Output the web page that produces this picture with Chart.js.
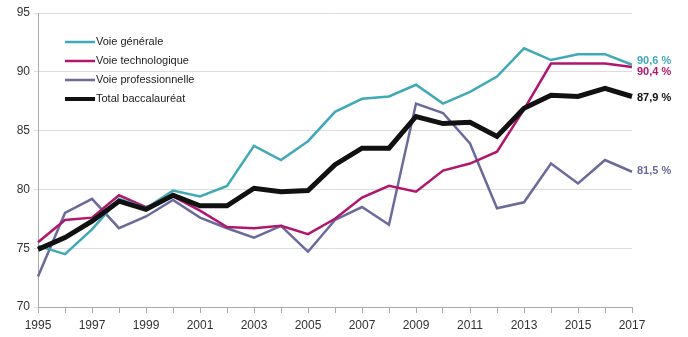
<!DOCTYPE html>
<html>
<head>
<meta charset="utf-8">
<script src="https://cdn.jsdelivr.net/npm/chart.js@4/dist/chart.umd.min.js"></script>
<style>
  html, body { margin: 0; padding: 0; background: #fff; }
  #wrap { width: 688px; height: 337px; }
</style>
</head>
<body>
<div id="wrap"><canvas id="bacChart" width="688" height="337"></canvas></div>
<script>
const years = [1995, 1996, 1997, 1998, 1999, 2000, 2001, 2002, 2003, 2004, 2005, 2006,
               2007, 2008, 2009, 2010, 2011, 2012, 2013, 2014, 2015, 2016, 2017];

const generale = [75.2, 74.5, 76.6, 79.2, 78.4, 79.9, 79.4, 80.3, 83.7, 82.5, 84.1, 86.6,
                  87.7, 87.9, 88.9, 87.3, 88.3, 89.6, 92.0, 91.0, 91.5, 91.5, 90.6];
const techno = [75.5, 77.4, 77.6, 79.5, 78.5, 79.4, 78.2, 76.8, 76.7, 76.9, 76.2, 77.5,
                79.3, 80.3, 79.8, 81.6, 82.2, 83.2, 86.8, 90.7, 90.7, 90.7, 90.4];
const pro = [72.6, 78.0, 79.2, 76.7, 77.7, 79.1, 77.6, 76.7, 75.9, 76.9, 74.7, 77.4,
             78.5, 77.0, 87.3, 86.5, 83.9, 78.4, 78.9, 82.2, 80.5, 82.5, 81.5];
const total = [74.9, 75.9, 77.3, 79.0, 78.3, 79.5, 78.6, 78.6, 80.1, 79.8, 79.9, 82.1,
               83.5, 83.5, 86.2, 85.6, 85.7, 84.5, 86.9, 88.0, 87.9, 88.6, 87.9];

const seriesNames = ['Voie générale', 'Voie technologique', 'Voie professionnelle', 'Total baccalauréat'];
const seriesColors = ['#3fa9b6', '#b0166e', '#6a6a9c', '#111111'];
const endLabels = ['90,6 %', '90,4 %', '81,5 %', '87,9 %'];

const fontFamily = 'Arial, "Liberation Sans", sans-serif';

// legend drawn inside the plot, top left
const legendPlugin = {
    id: 'innerLegend',
    afterDraw(chart) {
        const ctx = chart.ctx;
        ctx.save();
        ctx.font = '11px ' + fontFamily;
        ctx.textBaseline = 'middle';
        chart.data.datasets.forEach((ds, i) => {
            const y = 42 + i * 19;
            ctx.strokeStyle = ds.borderColor;
            ctx.lineWidth = i === 3 ? 4 : 2.5;
            ctx.beginPath();
            ctx.moveTo(65, y);
            ctx.lineTo(95, y);
            ctx.stroke();
            ctx.fillStyle = '#222';
            ctx.fillText(ds.label, 96, y);
        });
        ctx.restore();
    }
};

// value labels at the end of each line
const endLabelPlugin = {
    id: 'endLabels',
    afterDatasetsDraw(chart) {
        const ctx = chart.ctx;
        const shift = [-4, 5, -1, 1];
        ctx.save();
        ctx.font = 'bold 11px ' + fontFamily;
        ctx.textBaseline = 'middle';
        chart.data.datasets.forEach((ds, i) => {
            const meta = chart.getDatasetMeta(i);
            const pt = meta.data[meta.data.length - 1];
            ctx.fillStyle = seriesColors[i];
            ctx.fillText(endLabels[i], pt.x + 5, pt.y + shift[i]);
        });
        ctx.restore();
    }
};

const datasets = [generale, techno, pro, total].map((vals, i) => ({
    label: seriesNames[i],
    data: vals,
    borderColor: seriesColors[i],
    backgroundColor: seriesColors[i],
    borderWidth: i === 3 ? 5 : 2.5,
    pointRadius: 0,
    tension: 0,
    order: i === 3 ? 0 : 1
}));

new Chart('bacChart', {
    type: 'line',
    data: { labels: years, datasets: datasets },
    options: {
        responsive: false,
        animation: false,
        layout: { padding: { left: 0, right: 56, top: 13, bottom: 0 } },
        plugins: {
            legend: { display: false },
            tooltip: { enabled: false }
        },
        scales: {
            x: {
                type: 'category',
                offset: false,
                border: { display: true, color: '#aaa' },
                grid: { display: true, drawOnChartArea: false, drawTicks: true, tickLength: 6, color: '#aaa' },
                ticks: {
                    autoSkip: false,
                    maxRotation: 0,
                    padding: 5,
                    color: '#333',
                    font: { family: fontFamily, size: 12 },
                    callback: function(v, idx) { return years[idx] % 2 === 1 ? String(years[idx]) : ''; }
                },
                afterFit(axis) { axis.height = 30; }
            },
            y: {
                min: 70,
                max: 95,
                border: { display: true, color: '#aaa' },
                grid: { color: '#dcdcdc', lineWidth: 1, tickLength: 4 },
                ticks: {
                    stepSize: 5,
                    padding: 4,
                    color: '#333',
                    font: { family: fontFamily, size: 12 }
                },
                afterFit(axis) { axis.width = 38; }
            }
        }
    },
    plugins: [legendPlugin, endLabelPlugin]
});
</script>
</body>
</html>
